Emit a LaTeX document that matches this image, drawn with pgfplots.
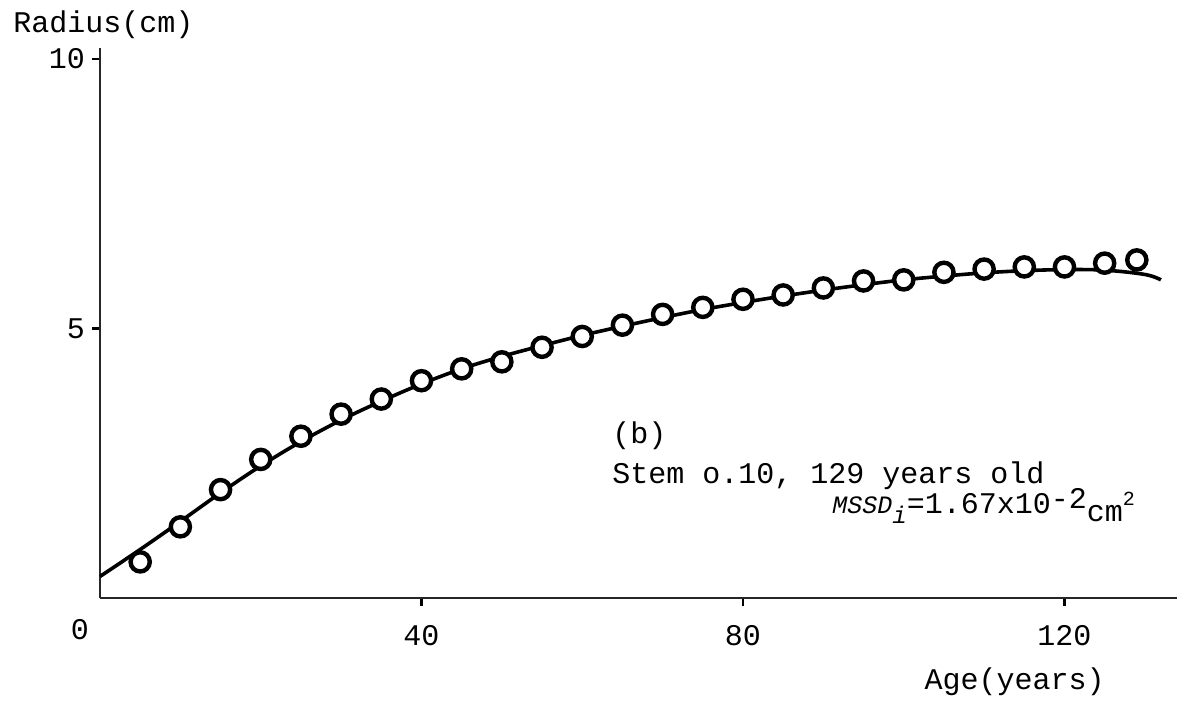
\documentclass[border=0pt]{standalone}
\usepackage{pgfplots}
\pgfplotsset{compat=1.18}
\usepackage{fontspec}
\setmainfont{Liberation Mono}
\begin{document}
\begin{tikzpicture}[font=\fontsize{15}{17}\selectfont]
\begin{axis}[
  at={(0,0)}, anchor=south west,
  scale only axis,
  width=538.5pt, height=275pt,
  xmin=0, xmax=134, ymin=0, ymax=10.2,
  axis lines=left,
  axis line style={-, line width=1pt, black!85},
  xtick={40,80,120}, ytick={5,10},
  tick align=outside,
  major tick length=4pt,
  tick style={line width=1.2pt, black},
  /pgf/number format/assume math mode=true,
  xticklabel style={yshift=-6pt},
  clip=false,
]
\addplot[black, line width=1.8pt, smooth, tension=0.6] coordinates {
(0,0.40) (5,0.90) (10,1.42) (15,1.95) (20,2.45) (25,2.90) (30,3.30) (35,3.65)
(40,3.97) (45,4.25) (50,4.48) (55,4.68) (60,4.87) (65,5.04) (70,5.20) (75,5.35)
(80,5.48) (85,5.60) (90,5.71) (95,5.81) (100,5.90) (105,5.97) (110,6.03)
(115,6.07) (120,6.09) (125,6.08) (130,6.00) (132,5.90)
};
\addplot[only marks, mark=*, mark size=4.8pt, mark options={fill=white, draw=black, line width=2.2pt}] coordinates {
(5,0.67) (10,1.32) (15,2.01) (20,2.57) (25,3.00) (30,3.41) (35,3.69) (40,4.03)
(45,4.25) (50,4.38) (55,4.65) (60,4.85) (65,5.06) (70,5.26) (75,5.39) (80,5.54)
(85,5.62) (90,5.75) (95,5.88) (100,5.90) (105,6.04) (110,6.10) (115,6.14)
(120,6.14) (125,6.21) (129,6.27)
};
\end{axis}
\node[anchor=west, inner sep=0] at (-43.5pt,286.5pt) {Radius(cm)};
\node[inner sep=0] at (-10pt,-16pt) {0};
\node[anchor=east, inner sep=0] at (502.5pt,-42pt) {Age(years)};
\node[anchor=base west, inner sep=0] at (256pt,77.5pt) {(b)};
\node[anchor=base west, inner sep=0] at (256pt,57.5pt) {Stem o.10, 129 years old};
\node[anchor=base west, inner sep=0] at (366pt,42.5pt) {{\fontsize{12.5}{13}\selectfont\itshape MSSD}\raisebox{-5pt}{\fontsize{12}{13}\selectfont\itshape i}=1.67x10\raisebox{2.5pt}{-2}\raisebox{-4pt}{cm\raisebox{8pt}{\fontsize{10}{11}\selectfont 2}}};
\pgfresetboundingbox
\useasboundingbox (-50pt,-55pt) rectangle (538.5pt,299pt);
\end{tikzpicture}
\end{document}
